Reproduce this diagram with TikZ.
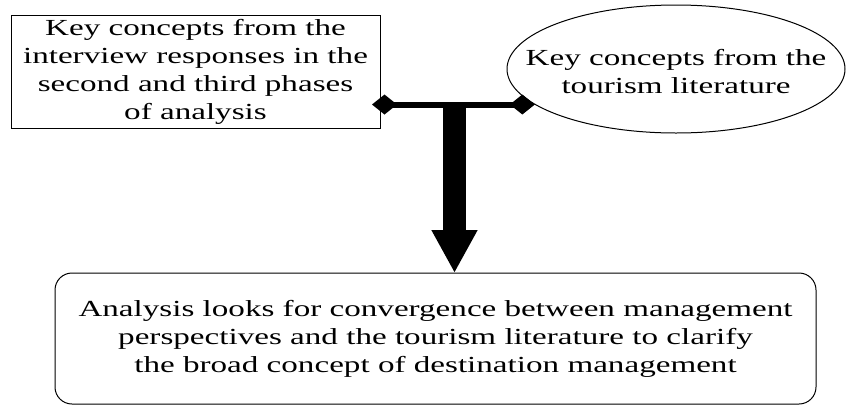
\documentclass[tikz,border=0pt]{standalone}
\usepackage{fontspec}
\setmainfont{Liberation Serif}[FakeStretch=1.44]
\usetikzlibrary{arrows.meta,shapes.geometric}
\tikzset{
  every node/.style={font=\fontsize{23}{28}\selectfont, text=black, align=center, inner sep=0pt, outer sep=0pt},
  sqbox/.style={draw, line width=1pt, rectangle, minimum width=369pt, minimum height=113pt},
  ellbox/.style={draw, line width=1pt, ellipse, minimum width=338pt, minimum height=128pt},
  roundbox/.style={draw, line width=1pt, rectangle, rounded corners=17pt, minimum width=761pt, minimum height=131pt},
  joinline/.style={line width=6pt, {Diamond[length=25pt,width=20pt]}-{Diamond[length=25pt,width=20pt]}},
  bigarrow/.style={line width=23pt, -{Triangle[length=43pt,width=43pt]}}
}
\begin{document}
\begin{tikzpicture}[x=1pt,y=1pt]
\useasboundingbox (0,0) rectangle (846,-405);
\node[sqbox] (rect) at (195.5,-71.5) {Key concepts from the\\interview responses in the\\second and third phases\\of analysis};
\node[ellbox] (ell) at (676,-69) {};
\node (elltext) at (676,-72) {Key concepts from the\\tourism literature};
\node[roundbox] (res) at (435.5,-338.5) {Analysis looks for convergence between management\\perspectives and the tourism literature to clarify\\the broad concept of destination management};
\coordinate (L) at ([xshift=-8pt,yshift=-33pt]rect.east);
\coordinate (R) at (L -| ell.194.2);
\coordinate (T) at (454.5,0 |- L);
\draw[joinline] (L) -- (R);
\draw[bigarrow] (T) -- (T |- res.north);
\end{tikzpicture}
\end{document}
